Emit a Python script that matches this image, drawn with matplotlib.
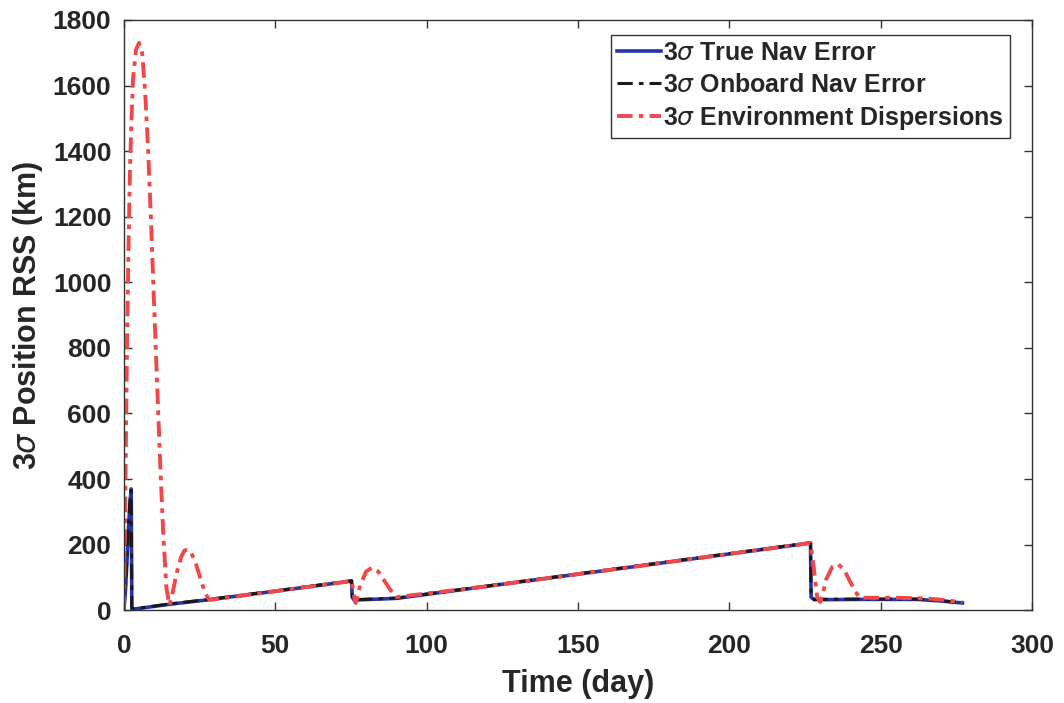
import matplotlib
matplotlib.use("Agg")
import matplotlib.pyplot as plt

# 3-sigma true nav error (km) vs time (day)
true_days = [0, 0.5, 1.0, 1.5, 2.0, 2.4, 2.6, 3.0, 15, 28, 50, 75.2, 75.4, 76, 90, 120, 150, 180, 210, 226.8, 227.0, 228,
             245, 262, 270, 277]
true_rss = [2, 60, 150, 250, 330, 370, 5, 3, 18, 32, 58, 89, 40, 31, 36, 73, 110, 147, 184, 205, 40, 32,
            33, 33, 28, 22]

# 3-sigma onboard nav error (km)
onb_days = [0, 0.5, 1.0, 1.5, 2.0, 2.4, 2.6, 3.0, 15, 28, 50, 75.2, 75.4, 76, 90, 120, 150, 180, 210, 226.8, 227.0, 228,
            245, 262, 270, 277]
onb_rss = [3, 70, 160, 260, 335, 365, 6, 4, 19, 33, 59, 90, 41, 32, 37, 74, 111, 148, 185, 206, 41, 33,
           34, 34, 29, 23]

# 3-sigma environment dispersions (km)
env_days = [0, 0.5, 1, 1.5, 2, 2.5, 3, 4, 5, 6, 7, 8, 9, 10, 11, 12, 13, 14, 15,
            16, 17, 18, 19, 20, 21, 22, 23, 24, 25, 26, 27, 28, 29,
            50, 75.2, 76, 76.5, 77, 78, 80, 82, 84, 86, 88, 90,
            120, 150, 180, 210, 226.8, 228, 229, 230, 231, 232, 234, 236, 238, 240, 242, 243,
            255, 265, 270, 277]
env_rss = [0, 400, 800, 1100, 1350, 1500, 1620, 1710, 1730, 1700, 1580, 1400, 1170, 920, 680, 440, 230, 70, 15,
           50, 95, 135, 165, 182, 185, 178, 160, 135, 105, 75, 50, 34, 32,
           58, 89, 45, 22, 35, 75, 118, 130, 118, 90, 62, 40,
           73, 110, 147, 184, 205, 120, 40, 25, 55, 95, 132, 140, 122, 85, 52, 38,
           38, 36, 32, 24]

fig = plt.figure(figsize=(10.64, 7.03), dpi=100)
ax = fig.add_axes([0.1165, 0.132, 0.8535, 0.8396])

txt = "#262626"
font = "Liberation Sans"
ax.plot(true_days, true_rss, color="#2336b0", lw=2.6, ls="-", label=r"3$\sigma$ True Nav Error")
ax.plot(onb_days, onb_rss, color="#1a1a1a", lw=2.2, ls=(0, (5, 2, 1.5, 2)), label=r"3$\sigma$ Onboard Nav Error")
ax.plot(env_days, env_rss, color="#f04848", lw=2.8, ls=(0, (4, 1.6, 1.2, 1.6)), label=r"3$\sigma$ Environment Dispersions")

ax.set_xlim(0, 300)
ax.set_ylim(0, 1800)
ax.set_xticks(range(0, 301, 50))
ax.set_yticks(range(0, 1801, 200))

ax.tick_params(direction="in", top=True, right=True, length=6, width=1, color="#333333",
               labelsize=19, labelcolor=txt)
ax.tick_params(axis="x", pad=17)
ax.tick_params(axis="y", pad=9)
for lab in ax.get_xticklabels() + ax.get_yticklabels():
    lab.set_fontweight("bold")
    lab.set_family(font)
for s in ax.spines.values():
    s.set_color("#333333")
    s.set_linewidth(1)

ax.set_xlabel("Time (day)", fontsize=22, fontweight="bold", color=txt, family=font, labelpad=8)
ax.set_ylabel(r"3$\sigma$ Position RSS (km)", fontsize=22, fontweight="bold", color=txt, family=font)
ax.yaxis.set_label_coords(-0.087, 0.5)

leg = ax.legend(loc="upper right", bbox_to_anchor=(0.9758, 0.9746), frameon=True, fancybox=False,
                handlelength=1.75, handletextpad=0.1, borderpad=0.25, labelspacing=0.3, borderaxespad=0,
                prop={"family": font, "weight": "bold", "size": 18})
leg.get_frame().set_edgecolor("#333333")
leg.get_frame().set_linewidth(1)
leg.get_frame().set_alpha(1)
for t in leg.get_texts():
    t.set_color(txt)

fig.savefig("out.png", dpi=100)
